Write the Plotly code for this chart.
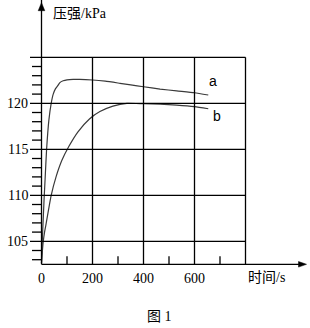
import plotly.graph_objects as go

# ---- data ----
t_a = [0, 2, 3, 5, 10, 14, 20, 29, 38, 46, 55, 66, 72, 85, 100, 124, 150, 200, 250, 308, 350, 400, 465, 530, 600, 654]
p_a = [102.6, 104, 105, 106.3, 109.5, 111.7, 115, 118.2, 120, 121, 121.6, 122, 122.25, 122.45, 122.55, 122.6, 122.6, 122.53, 122.4, 122.17, 122.0, 121.8, 121.55, 121.35, 121.15, 120.9]
t_b = [0, 3, 7, 12, 18, 28, 38, 57, 80, 107, 143, 188, 229, 280, 335, 400, 465, 530, 600, 654]
p_b = [102.6, 103.8, 105, 106.0, 106.9, 108.5, 110, 112.0, 113.8, 115.3, 116.9, 118.3, 119.1, 119.7, 120, 119.95, 119.9, 119.8, 119.63, 119.41]

x_ticks = [0, 200, 400, 600]
x_tick_labels = ["0", "200", "400", "600"]
x_grid = [200, 400, 600, 800]
x_minor = [100, 300, 500, 700]
y_ticks = [105, 110, 115, 120]
y_tick_labels = ["105", "110", "115", "120"]
y_grid = [105, 110, 115, 120, 125]
y_minor = [103, 104, 106, 107, 108, 109, 111, 112, 113, 114, 116, 117, 118, 119, 121, 122, 123, 124]
y_axis_min = 102.5
series_labels = ["a", "b"]
label_pos = [(674, 122.42), (689, 118.65)]

# ---- pixel mapping (figure is 310x328, zero margins) ----
W, H = 310, 328
X0PX, XS = 41.5, 0.255     # px of t=0, px per unit
Y120PX, YS = 103.3, 9.2    # px of 120 kPa, px per unit


def tx(px):
    return (px - X0PX) / XS


def vy(py):
    return 120 - (py - Y120PX) / YS


dx = 1 / XS
dy = 1 / YS

fig = go.Figure()
curve_col = "#3a3a3a"
fig.add_trace(go.Scatter(x=t_a, y=p_a, mode="lines", line=dict(color=curve_col, width=1.2, shape="spline", smoothing=0.5), hoverinfo="skip"))
fig.add_trace(go.Scatter(x=t_b, y=p_b, mode="lines", line=dict(color=curve_col, width=1.2, shape="spline", smoothing=0.5), hoverinfo="skip"))

shapes = []
lw = 1.3
blk = "black"
for v in y_grid:
    shapes.append(dict(type="line", x0=tx(30), x1=x_grid[-1], y0=v, y1=v, line=dict(color=blk, width=lw)))
for t in x_grid:
    shapes.append(dict(type="line", x0=t, x1=t, y0=y_axis_min, y1=y_grid[-1], line=dict(color=blk, width=lw)))
for v in y_minor:
    shapes.append(dict(type="line", x0=tx(32), x1=0, y0=v, y1=v, line=dict(color=blk, width=lw)))
for t in x_minor:
    shapes.append(dict(type="line", x0=t, x1=t, y0=y_axis_min, y1=y_axis_min + 8 * dy, line=dict(color=blk, width=lw)))
# axes
y_tip = vy(2.7)
x_tip = tx(306.5)
shapes.append(dict(type="line", x0=0, x1=0, y0=y_axis_min, y1=y_tip + 6 * dy, line=dict(color=blk, width=lw)))
shapes.append(dict(type="line", x0=0, x1=x_tip - 6 * dx, y0=y_axis_min, y1=y_axis_min, line=dict(color=blk, width=lw)))
# arrowheads
yb = y_tip - 8 * dy
shapes.append(dict(type="path", path=f"M {-3.3*dx} {yb} L 0 {y_tip} L {3.3*dx} {yb} Z", fillcolor=blk, line=dict(color=blk, width=0.5)))
xb = x_tip - 8 * dx
shapes.append(dict(type="path", path=f"M {xb} {y_axis_min - 2.8*dy} L {x_tip} {y_axis_min} L {xb} {y_axis_min + 2.8*dy} Z", fillcolor=blk, line=dict(color=blk, width=0.5)))

serif = "Times New Roman, Liberation Serif, Noto Sans CJK SC, serif"
ann = []
for v, s in zip(y_ticks, y_tick_labels):
    ann.append(dict(x=tx(29.5), y=v, text=s, showarrow=False, xanchor="right", yanchor="middle", font=dict(family=serif, size=14, color="black")))
for t, s in zip(x_ticks, x_tick_labels):
    ann.append(dict(x=t, y=vy(278), text=s, showarrow=False, xanchor="center", yanchor="middle", font=dict(family=serif, size=14, color="black")))
ann.append(dict(x=tx(246), y=vy(277.5), text="时间/s", showarrow=False, xanchor="left", yanchor="middle", font=dict(family=serif, size=14, color="black")))
ann.append(dict(x=tx(51), y=vy(13.5), text="压强/kPa", showarrow=False, xanchor="left", yanchor="middle", font=dict(family=serif, size=14, color="black")))
ann.append(dict(x=tx(159.5), y=vy(316), text="图 1", showarrow=False, xanchor="center", yanchor="middle", font=dict(family=serif, size=14, color="black")))
for s, (t, v) in zip(series_labels, label_pos):
    ann.append(dict(x=t, y=v, text=s, showarrow=False, xanchor="center", yanchor="middle", font=dict(family="Arial, Liberation Sans, sans-serif", size=14, color="black")))

fig.update_layout(
    width=W, height=H, margin=dict(l=0, r=0, t=0, b=0),
    paper_bgcolor="white", plot_bgcolor="white", showlegend=False,
    xaxis=dict(range=[tx(0), tx(W)], visible=False, fixedrange=True),
    yaxis=dict(range=[vy(H), vy(0)], visible=False, fixedrange=True),
    shapes=shapes, annotations=ann,
)
fig.write_html("out.html")
